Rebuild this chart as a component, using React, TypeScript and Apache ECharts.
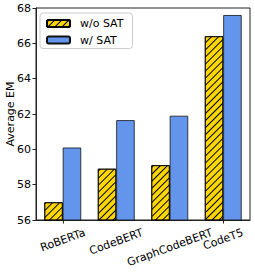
import React, { useEffect, useRef } from "react";
import * as echarts from "echarts";

const categories = ["RoBERTa", "CodeBERT", "GraphCodeBERT", "CodeT5"];
const woSat = [57.0, 58.9, 59.1, 66.4];
const wSat = [60.1, 61.65, 61.9, 67.6];
const yMin = 56;
const yMax = 68;
const yStep = 2;

const FONT = "DejaVu Sans";
const FS = 11;

export default function App() {
  const ref = useRef<HTMLDivElement>(null);
  useEffect(() => {
    if (!ref.current) return;
    const chart = echarts.init(ref.current, null, { renderer: "svg" });
    const gridBottomPx = 220;
    chart.setOption({
      animation: false,
      backgroundColor: "#fff",
      grid: {
        left: 36,
        right: 5,
        top: 8,
        bottom: 52,
        containLabel: false,
        outerBoundsMode: "none",
        show: true,
        borderColor: "#222",
        borderWidth: 1,
        backgroundColor: "transparent",
      },
      legend: {
        left: 40,
        top: 13,
        orient: "vertical",
        itemWidth: 23,
        itemHeight: 7,
        itemGap: 5.5,
        padding: [5, 9, 3, 6],
        borderColor: "#ccc",
        borderWidth: 1,
        borderRadius: 3,
        textStyle: {
          fontFamily: FONT,
          fontSize: FS,
          color: "#000",
          padding: [0, 0, 0, 5],
        },
        data: ["w/o SAT", "w/ SAT"],
      },
      xAxis: {
        type: "category",
        data: categories,
        axisLine: { show: true, lineStyle: { color: "#222", width: 1 } },
        axisTick: { show: true, alignWithLabel: true, length: 3.5, lineStyle: { color: "#222" } },
        axisLabel: { show: false },
      },
      yAxis: {
        type: "value",
        min: yMin,
        max: yMax,
        interval: yStep,
        name: "Average EM",
        nameLocation: "middle",
        nameRotate: 90,
        nameGap: 20,
        nameMoveOverlap: false,
        nameTextStyle: { fontFamily: FONT, fontSize: FS, color: "#000" },
        splitLine: { show: false },
        axisLine: { show: true, lineStyle: { color: "#222", width: 1 } },
        axisTick: { show: true, length: 3.5, lineStyle: { color: "#222" } },
        axisLabel: { fontFamily: FONT, fontSize: FS, color: "#000", margin: 5 },
      },
      series: [
        {
          name: "w/o SAT",
          type: "bar",
          data: woSat,
          barWidth: 18.4,
          barGap: "0%",
          itemStyle: {
            color: "#FFD700",
            borderColor: "#000",
            borderWidth: 0.8,
            decal: {
              symbol: "rect",
              symbolSize: 1,
              color: "#000",
              dashArrayX: [1, 0],
              dashArrayY: [0.8, 4],
              rotation: -Math.PI / 4,
            },
          },
        },
        {
          name: "w/ SAT",
          type: "bar",
          data: wSat,
          barWidth: 18.4,
          barGap: "0%",
          itemStyle: {
            color: "#6495ED",
            borderColor: "#111",
            borderWidth: 0.8,
          },
        },
      ],
    });

    const canvas = document.createElement("canvas");
    const ctx = canvas.getContext("2d");
    if (ctx) ctx.font = `${FS}px "${FONT}"`;
    const ang = (20 * Math.PI) / 180;
    const graphics = categories.map((c, i) => {
      const px = chart.convertToPixel({ xAxisIndex: 0 }, i) as number;
      const w = ctx ? ctx.measureText(c).width : c.length * 6.5;
      const h = FS * 1.0;
      const bboxH = w * Math.sin(ang) + h * Math.cos(ang);
      return {
        type: "text",
        x: px,
        y: gridBottomPx + 7 + bboxH / 2,
        rotation: ang,
        style: {
          text: c,
          fontFamily: FONT,
          fontSize: FS,
          fill: "#000",
          align: "center",
          verticalAlign: "middle",
        },
      };
    });
    chart.setOption({ graphic: graphics });
    return () => chart.dispose();
  }, []);
  return <div ref={ref} style={{ width: 255, height: 272, position: "absolute", left: 0, top: 0 }} />;
}
